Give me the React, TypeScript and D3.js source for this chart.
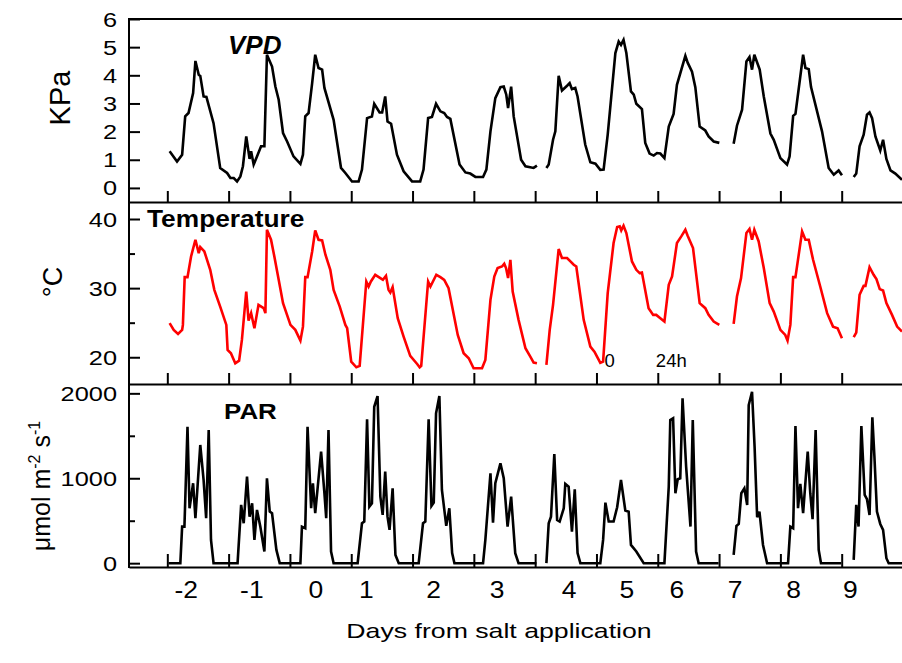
import React, { useRef, useEffect } from 'react';
import * as d3 from 'd3';

type Pt = [number, number] | null;

// time is hours from the first midnight of the record (day -2 starts at 0)
const vpd: Pt[] = [
  [0.9, 1.3], [3.8, 0.94], [5.8, 1.18], [7.0, 2.54], [8.3, 2.66], [10.1, 3.37], [11.0, 4.51], [12.3, 4.02],
  [12.9, 3.98], [14.2, 3.25], [15.3, 3.23], [18.1, 2.3], [20.7, 0.71], [23.4, 0.53], [24.7, 0.35], [26.0, 0.35],
  [27.3, 0.23], [28.6, 0.41], [29.6, 0.77], [30.9, 1.83], [32.2, 1.03], [32.8, 1.3], [33.8, 0.83], [35.1, 1.12],
  [36.7, 1.48], [38.0, 1.48], [39.0, 4.73], [41.0, 4.31], [42.3, 3.6], [43.6, 3.13], [45.3, 1.95], [46.9, 1.65],
  [49.4, 1.12], [52.1, 0.85], [53.1, 1.18], [54.0, 2.54], [55.3, 2.66], [56.7, 3.72], [57.9, 4.73], [59.2, 4.26],
  [60.6, 4.2], [61.5, 3.55], [65.1, 2.42], [68.0, 0.71], [69.7, 0.53], [72.3, 0.23], [74.9, 0.23], [76.2, 0.65],
  [78.2, 2.48], [80.1, 2.54], [81.0, 2.99], [83.1, 2.68], [84.1, 2.68], [85.3, 3.25], [86.2, 2.36], [87.6, 2.28],
  [89.9, 1.18], [92.5, 0.59], [95.8, 0.23], [99.0, 0.23], [100.3, 0.65], [102.1, 2.48], [103.6, 2.52], [105.2, 2.99],
  [106.9, 2.72], [108.4, 2.66], [109.5, 2.52], [110.8, 2.45], [114.4, 0.83], [116.7, 0.55], [118.6, 0.51], [120.6, 0.39],
  [123.6, 0.39], [124.9, 0.65], [126.5, 2.01], [128.4, 3.19], [130.4, 3.58], [131.7, 3.6], [132.7, 3.31], [133.4, 2.84],
  [134.6, 3.6], [135.6, 2.54], [138.5, 1.0], [140.2, 0.77], [143.4, 0.71], [144.7, 0.79], null,
  [148.4, 0.71], [149.3, 0.83], [151.0, 1.71], [151.9, 2.01], [153.2, 3.98], [154.5, 3.46], [156.5, 3.63], [157.5, 3.72],
  [158.4, 3.51], [159.7, 3.55], [160.6, 3.25], [163.6, 1.54], [165.6, 0.91], [167.6, 0.86], [169.5, 0.64], [170.8, 0.65],
  [172.4, 1.89], [175.4, 4.79], [176.7, 5.2], [177.6, 5.08], [178.6, 5.26], [179.7, 4.79], [181.5, 3.43], [182.6, 3.31],
  [183.6, 2.99], [185.8, 2.8], [187.1, 1.6], [188.8, 1.22], [190.4, 1.15], [191.7, 1.24], [193.0, 1.22], [194.6, 1.06],
  [196.3, 2.18], [198.2, 2.63], [199.5, 3.66], [202.8, 4.69], [203.7, 4.45], [205.4, 4.13], [206.7, 3.58], [208.4, 2.18],
  [210.6, 2.04], [211.9, 1.83], [213.9, 1.65], [216.1, 1.6], null,
  [221.7, 1.57], [223.0, 2.21], [225.0, 2.78], [226.7, 4.49], [227.9, 4.65], [228.9, 4.2], [229.8, 4.73], [231.9, 4.2],
  [233.5, 3.25], [236.1, 1.93], [237.4, 1.71], [240.0, 1.06], [242.6, 0.83], [243.6, 1.12], [245.0, 2.56], [245.9, 2.63],
  [248.9, 4.73], [249.8, 4.26], [251.1, 4.22], [252.0, 3.58], [256.3, 2.01], [258.9, 0.71], [260.9, 0.47], [262.8, 0.62],
  [264.1, 0.45], null,
  [268.7, 0.39], [269.7, 0.51], [271.0, 1.48], [272.6, 1.89], [273.9, 2.6], [274.9, 2.68], [275.9, 2.48], [277.2, 1.83],
  [279.1, 1.33], [280.2, 1.71], [281.5, 1.03], [283.1, 0.62], [285.0, 0.51], [287.6, 0.29],
];

const temperature: Pt[] = [
  [0.9, 24.93], [2.5, 23.96], [4.2, 23.38], [5.8, 23.96], [6.1, 24.68], [6.8, 31.59], [7.9, 31.59], [9.3, 34.58],
  [11.0, 37.0], [12.3, 35.07], [12.9, 35.94], [14.5, 35.3], [16.8, 32.65], [18.4, 29.75], [20.7, 27.33], [23.1, 24.68],
  [23.6, 21.06], [24.9, 20.58], [26.6, 19.13], [28.1, 19.51], [29.2, 22.51], [30.9, 29.51], [31.8, 25.3], [32.8, 26.38],
  [34.1, 24.2], [35.7, 27.58], [37.7, 27.1], [38.4, 26.38], [39.0, 38.45], [40.6, 37.0], [41.9, 34.58], [43.6, 31.2],
  [45.3, 27.83], [48.2, 24.68], [50.1, 23.96], [52.1, 22.4], [53.1, 24.43], [54.0, 31.59], [54.9, 31.59], [56.7, 35.3],
  [57.9, 38.35], [59.2, 37.0], [60.6, 36.9], [61.9, 34.83], [63.8, 32.65], [65.1, 29.75], [67.5, 27.33], [69.7, 24.68],
  [70.4, 24.2], [72.0, 19.36], [74.0, 18.55], [75.3, 18.74], [77.9, 30.96], [78.8, 30.23], [79.7, 30.96], [81.4, 31.93],
  [83.4, 31.45], [84.4, 31.2], [85.6, 31.78], [86.6, 29.75], [87.3, 29.36], [88.2, 30.14], [90.2, 25.65], [92.5, 22.99],
  [95.1, 20.19], [97.8, 19.03], [98.8, 18.55], [99.4, 18.74], [102.1, 30.96], [103.0, 30.23], [105.3, 31.93], [106.9, 31.59],
  [108.4, 31.2], [110.1, 30.0], [113.7, 23.23], [116.0, 20.58], [118.0, 19.86], [119.9, 18.41], [123.2, 18.41], [124.5, 19.61],
  [126.5, 28.3], [128.0, 31.68], [129.3, 32.9], [131.0, 33.13], [131.9, 33.52], [132.6, 32.9], [133.4, 31.45], [134.3, 34.1],
  [135.2, 29.51], [137.5, 25.41], [140.2, 21.3], [142.1, 20.09], [143.4, 19.22], [144.7, 19.13], null,
  [148.4, 18.88], [149.7, 23.96], [151.0, 27.58], [153.2, 35.65], [154.5, 34.35], [156.5, 34.35], [157.8, 33.86], [159.1, 33.38],
  [160.1, 33.13], [163.0, 25.41], [165.6, 21.54], [167.2, 20.81], [168.9, 19.61], [169.5, 19.2], [170.6, 19.36], [172.4, 29.28],
  [174.7, 36.52], [176.1, 38.84], [177.1, 38.93], [177.7, 38.35], [178.6, 39.03], [179.7, 37.97], [181.9, 33.86], [183.6, 32.65],
  [184.9, 32.17], [185.8, 32.26], [188.4, 27.1], [190.2, 26.13], [191.4, 26.13], [193.0, 25.65], [194.6, 25.16], [196.3, 30.48],
  [197.6, 31.68], [199.5, 36.52], [201.2, 37.48], [202.8, 38.45], [203.7, 37.58], [205.8, 35.8], [208.4, 27.83], [210.6, 27.1],
  [211.9, 26.13], [213.9, 25.16], [216.1, 24.68], null,
  [221.7, 24.83], [223.0, 28.78], [224.6, 31.45], [226.7, 37.97], [227.9, 38.55], [228.9, 37.0], [229.8, 38.45], [231.5, 36.75],
  [233.5, 32.9], [235.8, 27.83], [237.4, 26.61], [240.0, 23.96], [241.9, 23.23], [242.8, 22.41], [243.9, 24.68], [245.0, 31.59],
  [245.9, 31.59], [248.5, 38.2], [249.8, 37.0], [251.1, 37.0], [252.8, 34.1], [255.6, 30.23], [258.3, 26.38], [260.6, 24.43],
  [262.4, 24.2], [264.1, 22.75], null,
  [268.7, 22.9], [269.7, 23.57], [271.0, 29.03], [272.6, 30.33], [273.3, 30.33], [274.9, 33.04], [276.5, 31.93], [277.6, 31.3],
  [278.9, 29.86], [280.2, 29.65], [281.5, 27.83], [283.7, 26.13], [285.7, 24.43], [287.6, 23.71],
];

const par: Pt[] = [
  [0.5, 0], [5.1, 0], [5.8, 430], [6.7, 430], [7.9, 1607], [8.7, 647], [10.1, 941], [11.0, 529], [12.9, 1392], [14.2, 980],
  [15.2, 529], [16.2, 1568], [17.1, 274], [18.1, 0], [27.5, 0], [28.9, 686], [29.9, 470], [31.2, 1019], [32.2, 548],
  [33.2, 706], [34.1, 274], [35.1, 627], [36.4, 431], [38.0, 137], [39.0, 1000], [40.1, 607], [41.0, 588], [42.7, 156],
  [44.0, 0], [52.1, 0], [52.7, 430], [54.0, 412], [54.9, 1607], [56.3, 647], [57.0, 941], [57.9, 588], [60.2, 1313],
  [61.5, 824], [62.2, 529], [63.1, 1568], [64.1, 137], [65.1, 0], [74.5, 0], [76.2, 470], [77.1, 490], [78.2, 1694],
  [79.1, 666], [80.1, 706], [81.0, 1842], [82.3, 1968], [83.4, 784], [84.3, 568], [85.3, 1078], [86.2, 548], [87.0, 392],
  [88.2, 882], [89.3, 98], [90.6, 0], [98.4, 0], [100.1, 470], [101.0, 490], [102.3, 1694], [103.4, 674], [104.3, 713],
  [105.2, 1765], [106.5, 1968], [107.5, 862], [109.2, 439], [110.4, 647], [111.5, 118], [112.4, 0], [123.6, 0], [124.5, 274],
  [126.5, 1059], [127.5, 478], [128.4, 941], [130.4, 1176], [131.7, 1000], [133.2, 431], [134.6, 784], [136.2, 118],
  [137.5, 0], [144.5, 0], null,
  [148.4, 0], [149.3, 470], [150.2, 548], [151.5, 1286], [152.6, 509], [153.6, 490], [155.2, 647], [155.8, 933], [157.1, 901],
  [158.4, 372], [159.5, 871], [160.6, 118], [161.7, 0], [169.5, 0], [170.6, 274], [171.5, 713], [172.8, 490], [174.7, 490],
  [176.1, 659], [177.6, 980], [179.3, 619], [180.6, 607], [181.5, 215], [183.6, 137], [186.5, 0], [194.6, 0], [196.3, 901],
  [196.9, 1686], [198.0, 1706], [198.9, 824], [199.8, 988], [200.8, 1000], [201.7, 1941], [203.1, 1137], [204.8, 431],
  [205.7, 1686], [207.0, 137], [208.0, 0], [215.8, 0], null,
  [221.7, 98], [222.8, 439], [223.7, 462], [224.7, 824], [225.9, 882], [227.0, 686], [227.6, 1862], [228.9, 2019],
  [229.9, 1372], [230.9, 541], [231.8, 607], [233.2, 215], [234.8, 0], [243.0, 0], [243.9, 431], [245.0, 412], [245.9, 1615],
  [246.9, 647], [247.8, 933], [248.9, 588], [250.7, 1313], [251.7, 824], [252.6, 518], [253.8, 1568], [255.0, 156],
  [255.9, 0], [263.8, 0], null,
  [268.7, 39], [269.7, 686], [270.6, 431], [271.7, 1615], [273.0, 804], [273.9, 753], [274.9, 568], [276.0, 1718],
  [276.8, 1262], [277.8, 607], [279.1, 462], [280.2, 392], [281.5, 59], [282.4, 0], [287.8, 0],
];

const dayLabels = ['-2', '-1', '0', '1', '2', '3', '4', '5', '6', '7', '8', '9'];
const dayLabelHours = [7.4, 33.1, 58.1, 77.9, 104.2, 129.1, 157.3, 179.9, 199.5, 222.3, 245.2, 267.4];
const midnights = [0, 24, 48, 72, 96, 120, 144, 168, 192, 216, 240, 264];
const vpdTicks = [0, 1, 2, 3, 4, 5, 6];
const tempTicks = [20, 30, 40];
const tempMinor = [25, 35];
const parTicks = [0, 1000, 2000];
const parMinor = [500, 1500];

const FONT = "'Liberation Sans', Arial, Helvetica, sans-serif";

function App() {
  const ref = useRef<SVGSVGElement>(null);

  useEffect(() => {
    const svg = d3.select(ref.current);
    svg.selectAll('*').remove();

    const x = d3.scaleLinear().domain([-15, 288]).range([129, 903]);
    const yVpd = d3.scaleLinear().domain([-0.5, 6]).range([202, 19]);
    const yTemp = d3.scaleLinear().domain([16.13, 42.46]).range([384, 202]);
    const yPar = d3.scaleLinear().domain([-45, 2110]).range([567, 384]);

    const g = svg.append('g').attr('font-family', FONT);

    // series
    const series: [Pt[], d3.ScaleLinear<number, number>, string][] = [
      [vpd, yVpd, '#000'],
      [temperature, yTemp, '#ff0000'],
      [par, yPar, '#000'],
    ];
    series.forEach(([data, y, color]) => {
      const line = d3.line<Pt>()
        .defined((d) => d !== null)
        .x((d) => x(d![0]))
        .y((d) => y(d![1]));
      g.append('path')
        .attr('d', line(data))
        .attr('fill', 'none')
        .attr('stroke', color)
        .attr('stroke-width', 2.6)
        .attr('stroke-linejoin', 'miter');
    });

    // frame
    g.append('line').attr('x1', 129).attr('x2', 129).attr('y1', 18).attr('y2', 568)
      .attr('stroke', '#000').attr('stroke-width', 2);
    g.append('line').attr('x1', 128).attr('x2', 903).attr('y1', 19).attr('y2', 19)
      .attr('stroke', '#000').attr('stroke-width', 2);

    // x axes at the bottom of each panel, ticks inside
    [202, 384, 567].forEach((yy, i) => {
      const ax = g.append('g')
        .attr('transform', `translate(0,${yy})`)
        .call(d3.axisBottom(x).tickValues(midnights).tickSizeInner(i === 2 ? -13 : -11).tickSizeOuter(0).tickFormat(() => ''));
      ax.selectAll('path, line').attr('stroke', '#000').attr('stroke-width', 2);
      ax.selectAll('text').remove();
    });

    // y axes
    const yAxis = (scale: d3.ScaleLinear<number, number>, major: number[], minor: number[]) => {
      const ax = g.append('g')
        .attr('transform', 'translate(129,0)')
        .call(d3.axisLeft(scale).tickValues(major).tickFormat(d3.format('d')).tickSizeInner(-11).tickSizeOuter(0).tickPadding(12));
      ax.select('.domain').remove();
      ax.selectAll('line').attr('stroke', '#000').attr('stroke-width', 2);
      ax.selectAll('text')
        .attr('x', 0)
        .attr('dy', '0.36em')
        .attr('transform', 'translate(-12,0) scale(1.3,1)')
        .attr('font-size', 19.5)
        .attr('font-family', FONT)
        .attr('fill', '#000');
      if (minor.length) {
        const mx = g.append('g')
          .attr('transform', 'translate(129,0)')
          .call(d3.axisLeft(scale).tickValues(minor).tickSizeInner(-6).tickSizeOuter(0).tickFormat(() => ''));
        mx.select('.domain').remove();
        mx.selectAll('line').attr('stroke', '#000').attr('stroke-width', 2);
      }
    };
    yAxis(yVpd, vpdTicks, []);
    yAxis(yTemp, tempTicks, tempMinor);
    yAxis(yPar, parTicks, parMinor);

    // day labels
    g.selectAll('.day-label')
      .data(dayLabels)
      .enter()
      .append('text')
      .attr('class', 'day-label')
      .attr('transform', (d, i) => `translate(${x(dayLabelHours[i])},598) scale(1.15,1)`)
      .attr('text-anchor', 'middle')
      .attr('font-size', 23)
      .text((d) => d);

    g.append('text')
      .attr('transform', 'translate(499,638) scale(1.27,1)')
      .attr('text-anchor', 'middle')
      .attr('font-size', 21)
      .text('Days from salt application');

    // panel titles
    g.append('text').attr('x', 228).attr('y', 54).attr('font-size', 26)
      .attr('font-weight', 'bold').attr('font-style', 'italic').text('VPD');
    g.append('text').attr('transform', 'translate(147,227) scale(1.12,1)').attr('font-size', 23.5)
      .attr('font-weight', 'bold').text('Temperature');
    g.append('text').attr('transform', 'translate(224,419) scale(1.18,1)').attr('font-size', 22)
      .attr('font-weight', 'bold').text('PAR');

    // hour marks
    g.append('text').attr('x', x(173.2)).attr('y', 366.5).attr('text-anchor', 'middle')
      .attr('font-size', 18.5).text('0');
    g.append('text').attr('x', x(197.3)).attr('y', 366.5).attr('text-anchor', 'middle')
      .attr('font-size', 18.5).text('24h');

    // y titles
    g.append('text').attr('transform', 'translate(70,98) rotate(-90)').attr('text-anchor', 'middle')
      .attr('font-size', 29).text('KPa');
    g.append('text').attr('transform', 'translate(62,282) rotate(-90)').attr('text-anchor', 'middle')
      .attr('font-size', 27).text('°C');
    const unit = g.append('text').attr('transform', 'translate(50,486) rotate(-90)').attr('text-anchor', 'middle')
      .attr('font-size', 25);
    unit.append('tspan').text('μmol m');
    unit.append('tspan').attr('font-size', 16).attr('dy', -10).text('-2');
    unit.append('tspan').attr('dy', 10).text(' s');
    unit.append('tspan').attr('font-size', 16).attr('dy', -10).text('-1');

    return () => {
      svg.selectAll('*').remove();
    };
  }, []);

  return (
    <svg
      ref={ref}
      width={902}
      height={663}
      style={{ position: 'absolute', left: 0, top: 0, background: '#fff' }}
    />
  );
}

export default App;
